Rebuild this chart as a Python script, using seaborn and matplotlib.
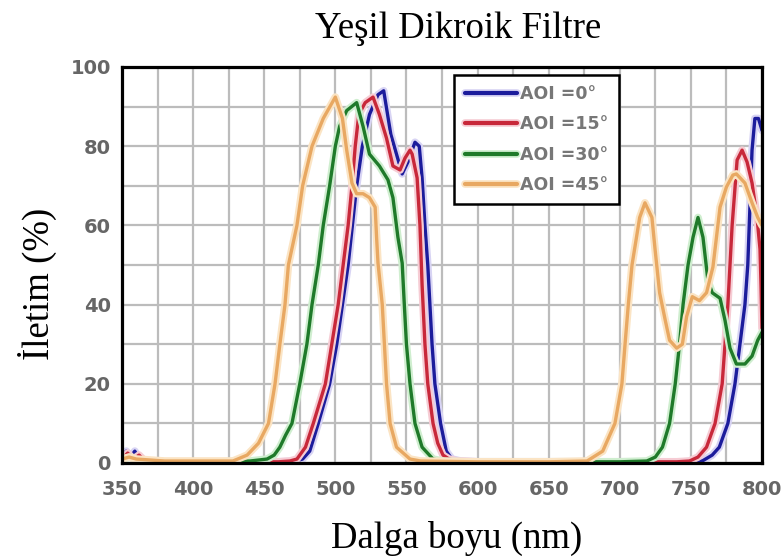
import numpy as np
import pandas as pd
import matplotlib
matplotlib.use("Agg")
import matplotlib.pyplot as plt
import matplotlib.patheffects as pe
from matplotlib.ticker import MultipleLocator
import seaborn as sns

# Transmission spectra of a green dichroic filter at four angles of incidence
labels = ["AOI =0°", "AOI =15°", "AOI =30°", "AOI =45°"]
colors = ["#1c1c9c", "#c8283a", "#1f7a2a", "#e8a862"]
halos = ["#d8d4f4", "#f6ccd4", "#cfeecf", "#fbe4c4"]

wl_0 = [350, 353, 356, 359, 362, 366, 380, 420, 460, 472, 477, 482, 488, 492, 496, 501,
        505, 509, 512, 515, 519, 524, 530, 534, 539, 543, 547, 551, 556, 559, 561, 563,
        565, 568, 570, 574, 578, 582, 588, 600, 650, 700, 745, 758, 765, 770, 776, 781,
        784.5, 788, 790, 793, 795, 797.5, 800]
tr_0 = [1.5, 3, 1.5, 3, 1, 0.5, 0.3, 0.3, 0.3, 0.5, 1, 3, 10, 15, 20, 30,
        40, 50, 60, 70, 80, 88, 93, 94, 83, 78, 73, 76, 81, 80, 72, 60,
        50, 30, 20, 10, 3, 1, 0.5, 0.3, 0.3, 0.3, 0.3, 0.5, 2, 4, 10, 20,
        30, 40, 50, 79, 87, 87, 84]

wl_15 = [350, 354, 358, 362, 366, 380, 420, 460, 468, 473, 479, 484.5, 493, 497.5, 502,
         505.5, 509, 511.7, 514, 516.5, 521, 526.5, 531, 536, 540.5, 545.5, 549, 552.5,
         554, 557.5, 559.5, 561, 563, 565, 568.7, 572, 575.7, 580, 586, 600, 650, 700,
         740, 749, 755, 761, 767, 772, 774, 776, 779, 782.5, 786, 789.5, 793, 796.5,
         798.6, 799.3, 800]
tr_15 = [1, 2.5, 1, 2, 0.5, 0.3, 0.3, 0.3, 0.5, 1, 4, 10, 20, 30, 40,
         50, 60, 70, 80, 88, 91, 92.4, 88, 82, 75, 74, 77, 79,
         78, 72, 60, 45, 30, 20, 10, 5, 2, 1, 0.5, 0.3, 0.3, 0.3,
         0.3, 0.5, 1.5, 4, 10, 20, 30, 40, 60, 76.5, 79, 76, 70.7, 62,
         54, 45, 34]

wl_30 = [350, 356, 362, 380, 420, 440, 452, 457, 461, 465, 469.5, 475, 480, 483.6, 488,
         491.5, 496, 500, 503, 508, 515, 519.5, 524, 531, 537, 540.5, 544, 547, 548.5,
         550, 552.5, 556, 561, 568.7, 575, 590, 650, 700, 719, 725, 730, 735, 739, 742,
         744.5, 748, 751.5, 755, 758.5, 762, 765, 770.5, 774, 777.5, 782, 788, 793, 797,
         800]
tr_30 = [1, 1.5, 0.5, 0.3, 0.3, 0.5, 1, 2, 4, 7, 10, 20, 30, 40, 50,
         60, 70, 80, 85, 89, 91, 85, 78, 75, 71.5, 67, 57, 50.5, 40,
         30, 20, 10, 4, 1, 0.5, 0.3, 0.3, 0.3, 0.5, 1.5, 4, 10, 20, 30,
         40, 50, 57, 62, 57, 46, 43, 41.6, 36, 29, 25, 25, 27, 31,
         33]

wl_45 = [350, 355, 360, 380, 410, 428, 438, 446, 453, 457.6, 461, 464.6, 467, 473,
         477, 483.6, 491.5, 500, 505, 508, 511.7, 515, 519.5, 524, 528, 529, 530, 533,
         536, 538.5, 543, 552.5, 560, 600, 650, 677, 688, 696.6, 701.5, 703.7, 706,
         708.6, 714, 717.7, 722.6, 724.8, 728, 732, 735, 740, 744, 747, 751, 756, 761,
         765.5, 770.5, 775, 779.5, 782, 788, 793, 797, 800]
tr_45 = [1, 1.5, 1, 0.5, 0.5, 0.5, 2, 5, 10, 20, 30, 40, 50, 60,
         70, 80, 87, 92.4, 87, 79, 70.7, 68, 68, 67, 64.6, 57, 50.5, 40,
         20, 10, 4, 1, 0.5, 0.3, 0.3, 0.5, 3, 10, 20, 30, 40,
         50, 62, 65.7, 62, 54, 43, 36, 31, 29, 30, 37, 42, 41, 43,
         49.5, 64.6, 69.7, 72.7, 73, 70.7, 65.7, 62, 60]

x_major = [350, 400, 450, 500, 550, 600, 650, 700, 750, 800]
y_major = [0, 20, 40, 60, 80, 100]

spectra = [(wl_0, tr_0), (wl_15, tr_15), (wl_30, tr_30), (wl_45, tr_45)]

sns.set_theme(style="white")
plt.rcParams["font.family"] = ["DejaVu Sans"]

fig = plt.figure(figsize=(7.82, 5.58), dpi=100)
ax = fig.add_axes([122 / 782, 95 / 558, 640 / 782, 396 / 558])

for (wl, tr), lab, col, halo in zip(spectra, labels, colors, halos):
    df = pd.DataFrame({"wl": wl, "tr": tr})
    sns.lineplot(data=df, x="wl", y="tr", color=col, label=lab, ax=ax,
                 linewidth=2.4, sort=False,
                 path_effects=[pe.Stroke(linewidth=5.5, foreground=halo), pe.Normal()])

ax.set_xlim(350, 800)
ax.set_ylim(0, 100)
ax.set_xticks(x_major)
ax.set_yticks(y_major)
ax.xaxis.set_minor_locator(MultipleLocator(25))
ax.yaxis.set_minor_locator(MultipleLocator(10))
ax.grid(True, which="both", color="#bcbcbc", linewidth=1.6)
ax.set_axisbelow(True)

for side in ["left", "bottom", "top", "right"]:
    ax.spines[side].set_visible(True)
    ax.spines[side].set_color("black")
    ax.spines[side].set_linewidth(2.3)

ax.tick_params(axis="both", which="major", direction="out", length=5, width=2,
               color="black", labelsize=14, labelcolor="#666666")
ax.tick_params(axis="both", which="minor", direction="out", length=3, width=1.5,
               color="black")
ax.tick_params(axis="x", which="major", pad=7)
ax.tick_params(axis="y", which="major", pad=3)
for t in ax.get_xticklabels() + ax.get_yticklabels():
    t.set_fontweight("bold")

ax.set_xlabel("")
ax.set_ylabel("")

leg = ax.legend(loc="upper left", bbox_to_anchor=(0.519, 0.98), borderaxespad=0,
                fancybox=False, framealpha=1, facecolor="white", edgecolor="black",
                prop={"size": 12.5, "weight": "bold"}, handlelength=3.0,
                handletextpad=0.2, labelspacing=0.7, borderpad=0.6)
leg.get_frame().set_linewidth(1.8)
for t in leg.get_texts():
    t.set_color("#777777")
for h in leg.get_lines():
    h.set_linewidth(3)

serif = ["Liberation Serif", "DejaVu Serif"]
fig.text(458 / 782, 1 - 38 / 558, "Yeşil Dikroik Filtre", ha="center", va="baseline",
         fontsize=26.5, family=serif, color="black")
fig.text(457 / 782, 1 - 548 / 558, "Dalga boyu (nm)", ha="center", va="baseline",
         fontsize=26.5, family=serif, color="black")
fig.text(37 / 782, 1 - 284 / 558, "İletim (%)", ha="center", va="center",
         rotation=90, fontsize=26.5, family=serif, color="black")

fig.savefig("out.png", dpi=100)
